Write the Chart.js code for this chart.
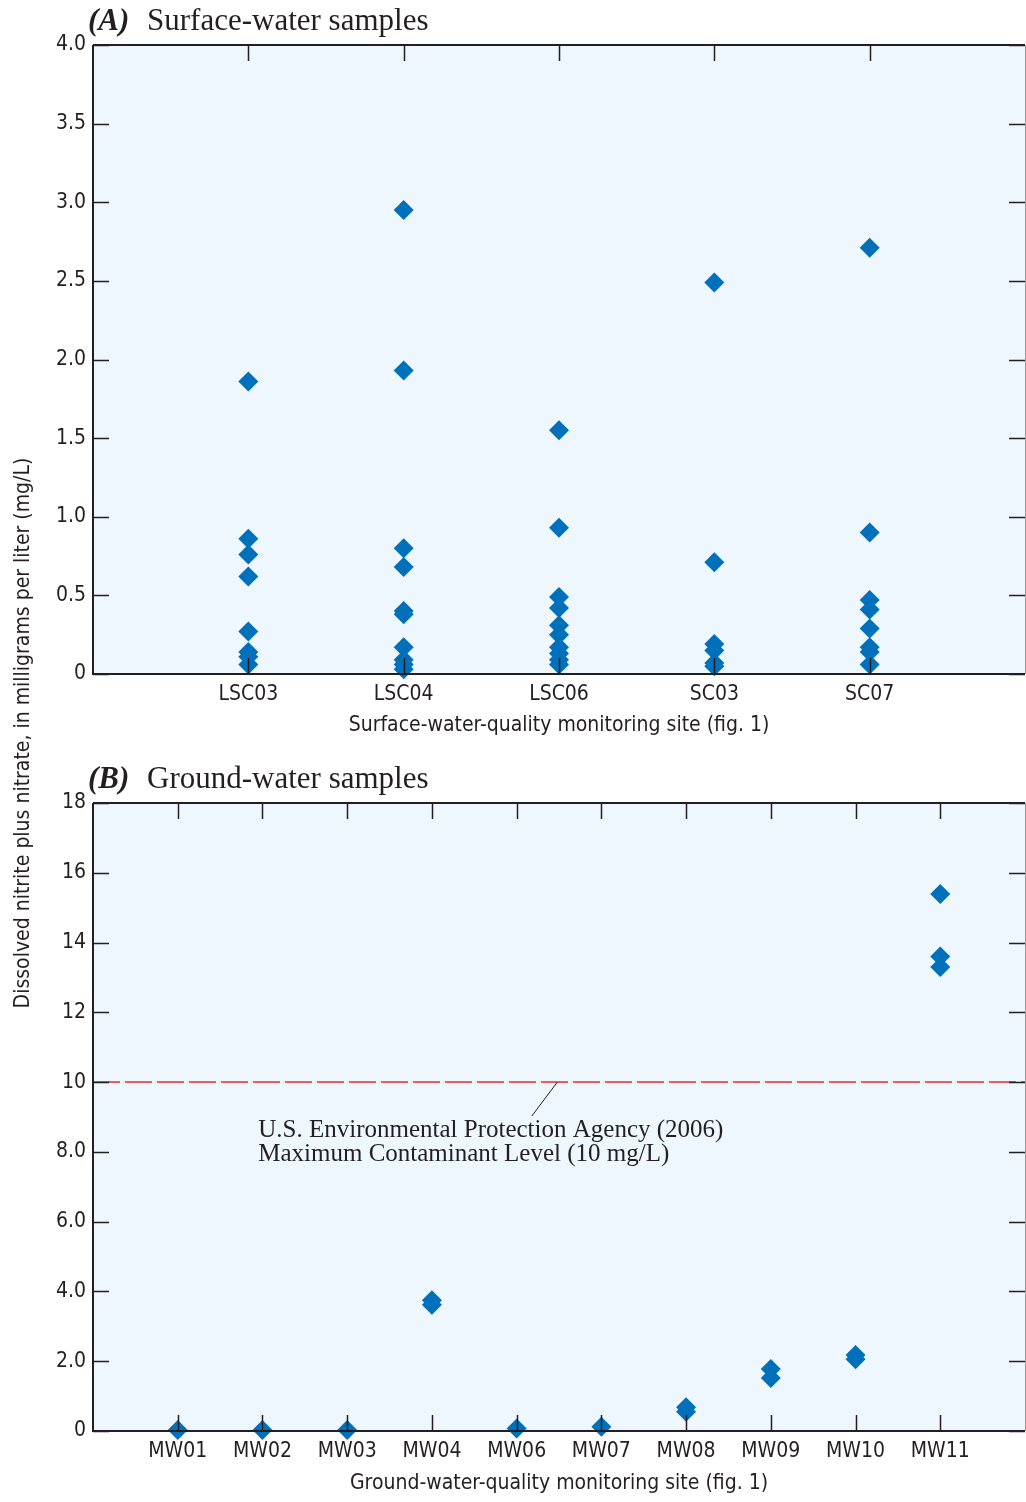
<!DOCTYPE html>
<html>
<head>
<meta charset="utf-8">
<script src="https://cdn.jsdelivr.net/npm/chart.js@4.4.1/dist/chart.umd.min.js"></script>
<style>
  body { margin: 0; background: #fff; width: 1026px; height: 1502px; position: relative; overflow: hidden; }
  .panel { position: absolute; left: 0; }
  #panelA { top: 0; }
  #panelB { top: 760px; }
  #ytitle {
    position: absolute; left: -328px; top: 721px; width: 700px; height: 24px;
    line-height: 24px; text-align: center; transform: rotate(-90deg);
    font: 21px "Liberation Sans Narrow", "DejaVu Sans Condensed", Roboto, sans-serif; color: #231f20;
  }
</style>
</head>
<body>
<canvas id="panelA" class="panel" width="1026" height="760"></canvas>
<canvas id="panelB" class="panel" width="1026" height="742"></canvas>
<div id="ytitle">Dissolved nitrite plus nitrate, in milligrams per liter (mg/L)</div>
<script>
// surface-water sites and their nitrite+nitrate results, mg/L
var surfaceSites = ['LSC03', 'LSC04', 'LSC06', 'SC03', 'SC07'];
var lsc03 = [1.86, 0.86, 0.76, 0.62, 0.27, 0.14, 0.11, 0.06];
var lsc04 = [2.95, 1.93, 0.80, 0.68, 0.40, 0.38, 0.17, 0.09, 0.06, 0.03];
var lsc06 = [1.55, 0.93, 0.49, 0.42, 0.31, 0.25, 0.17, 0.13, 0.09, 0.06];
var sc03 = [2.49, 0.71, 0.19, 0.15, 0.07, 0.05];
var sc07 = [2.71, 0.90, 0.47, 0.41, 0.29, 0.17, 0.14, 0.06];
var surfaceValues = [lsc03, lsc04, lsc06, sc03, sc07];

// ground-water wells
var wellSites = ['MW01', 'MW02', 'MW03', 'MW04', 'MW06', 'MW07', 'MW08', 'MW09', 'MW10', 'MW11'];
var mw01 = [0.03];
var mw02 = [0.03];
var mw03 = [0.03];
var mw04 = [3.75, 3.62];
var mw06 = [0.07];
var mw07 = [0.12];
var mw08 = [0.68, 0.55];
var mw09 = [1.78, 1.52];
var mw10 = [2.18, 2.06];
var mw11 = [15.39, 13.6, 13.3];
var wellValues = [mw01, mw02, mw03, mw04, mw06, mw07, mw08, mw09, mw10, mw11];

// EPA maximum contaminant level
var mcl = 10;

var INK = '#231f20';
var BLUE = '#0070ba';
var NARROW = '"Liberation Sans Narrow", "DejaVu Sans Condensed", Roboto, sans-serif';
var SERIF = '"Liberation Serif", "DejaVu Serif", serif';

function toPoints(values) {
  var pts = [];
  values.forEach(function(list, i) {
    list.forEach(function(v) { pts.push({x: i + 1, y: v}); });
  });
  return pts;
}

function yLabel(v) {
  if (v === 0) return '0';
  return v < 10 ? v.toFixed(1) : String(v);
}

// plot background, frame, inward ticks on every side, panel heading, note
var panelDecor = {
  id: 'panelDecor',
  beforeDatasetsDraw: function(chart) {
    var a = chart.chartArea, ctx = chart.ctx;
    ctx.save();
    ctx.fillStyle = '#eef7fd';
    ctx.fillRect(a.left, a.top, a.right - a.left, a.bottom - a.top);
    ctx.restore();
  },
  afterDatasetsDraw: function(chart, args, opts) {
    var a = chart.chartArea, ctx = chart.ctx;
    var xs = chart.scales.x, ys = chart.scales.y;
    var len = 16;
    ctx.save();
    ctx.strokeStyle = INK;
    ctx.lineWidth = 1.5;
    ctx.beginPath();
    xs.ticks.forEach(function(t) {
      var px = Math.round(xs.getPixelForValue(t.value)) + 0.5;
      ctx.moveTo(px, a.bottom); ctx.lineTo(px, a.bottom - len);
      ctx.moveTo(px, a.top); ctx.lineTo(px, a.top + len);
    });
    ys.ticks.forEach(function(t) {
      var py = Math.round(ys.getPixelForValue(t.value)) + 0.5;
      ctx.moveTo(a.left, py); ctx.lineTo(a.left + len, py);
      ctx.moveTo(a.right, py); ctx.lineTo(a.right - len, py);
    });
    ctx.stroke();

    ctx.lineWidth = 2;
    ctx.beginPath();
    ctx.moveTo(a.left, a.top); ctx.lineTo(a.left, a.bottom); ctx.lineTo(a.right, a.bottom);
    ctx.moveTo(a.left, a.top); ctx.lineTo(a.right, a.top);
    ctx.stroke();
    ctx.strokeStyle = '#9a9a9a';
    ctx.lineWidth = 1;
    ctx.beginPath();
    ctx.moveTo(a.right + 0.5, a.top); ctx.lineTo(a.right + 0.5, a.bottom);
    ctx.stroke();

    // heading
    ctx.fillStyle = INK;
    ctx.textBaseline = 'alphabetic';
    ctx.font = 'italic bold 31px ' + SERIF;
    ctx.fillText(opts.tag, a.left - 5, a.top - 15);
    ctx.font = '31px ' + SERIF;
    ctx.fillText(opts.heading, a.left + 54, a.top - 15);

    if (opts.note) {
      var n = opts.note;
      ctx.strokeStyle = INK;
      ctx.lineWidth = 1;
      ctx.beginPath();
      ctx.moveTo(xs.getPixelForValue(n.from[0]), ys.getPixelForValue(n.from[1]));
      ctx.lineTo(xs.getPixelForValue(n.to[0]), ys.getPixelForValue(n.to[1]));
      ctx.stroke();
      ctx.font = '25px ' + SERIF;
      n.lines.forEach(function(line, i) {
        ctx.fillText(line, xs.getPixelForValue(n.at[0]), ys.getPixelForValue(n.at[1]) + i * 24);
      });
    }
    ctx.restore();
  }
};

function makePanel(id, sites, values, opt) {
  var datasets = [{
    type: 'scatter',
    data: toPoints(values),
    pointStyle: 'rectRot',
    pointRadius: 10,
    pointBackgroundColor: BLUE,
    pointBorderWidth: 0,
    clip: false,
    order: 1
  }];
  if (opt.limit != null) {
    datasets.push({
      type: 'line',
      data: [{x: 0, y: opt.limit}, {x: sites.length + 1, y: opt.limit}],
      borderColor: '#ee2a24',
      borderWidth: 1.5,
      borderDash: [27, 5],
      pointRadius: 0,
      order: 2
    });
  }
  return new Chart(document.getElementById(id), {
    type: 'scatter',
    data: {datasets: datasets},
    options: {
      responsive: false,
      animation: false,
      events: [],
      layout: {autoPadding: false, padding: {top: opt.top, right: 1, left: 0, bottom: 0}},
      plugins: {
        legend: {display: false},
        tooltip: {enabled: false},
        panelDecor: {tag: opt.tag, heading: opt.heading, note: opt.note}
      },
      scales: {
        x: {
          type: 'linear',
          min: 0,
          max: sites.length + 1,
          afterBuildTicks: function(s) {
            s.ticks = sites.map(function(n, i) { return {value: i + 1}; });
          },
          afterFit: function(s) {
            s.height = opt.xHeight;
            s.paddingLeft = 0;
            s.paddingRight = 0;
          },
          grid: {display: false, drawTicks: false},
          border: {display: false},
          ticks: {
            autoSkip: false,
            maxRotation: 0,
            padding: 8,
            color: INK,
            font: {family: NARROW, size: 21},
            callback: function(v) { return sites[v - 1]; }
          },
          title: {
            display: true,
            text: opt.xTitle,
            color: INK,
            font: {family: NARROW, size: 21},
            padding: {top: 0, bottom: opt.titlePad}
          }
        },
        y: {
          min: 0,
          max: opt.yMax,
          afterFit: function(s) {
            s.width = 93;
            s.paddingTop = 0;
            s.paddingBottom = 0;
          },
          grid: {display: false, drawTicks: false},
          border: {display: false},
          ticks: {
            stepSize: opt.yStep,
            padding: 7,
            color: INK,
            font: {family: NARROW, size: 21},
            callback: yLabel
          }
        }
      }
    },
    plugins: [panelDecor]
  });
}

makePanel('panelA', surfaceSites, surfaceValues, {
  tag: '(A)',
  heading: 'Surface-water samples',
  top: 45,
  xHeight: 86,
  titlePad: 22,
  yMax: 4,
  yStep: 0.5,
  xTitle: 'Surface-water-quality monitoring site (fig. 1)'
});

makePanel('panelB', wellSites, wellValues, {
  tag: '(B)',
  heading: 'Ground-water samples',
  top: 43,
  xHeight: 71,
  titlePad: 6,
  yMax: 18,
  yStep: 2,
  limit: mcl,
  xTitle: 'Ground-water-quality monitoring site (fig. 1)',
  note: {
    from: [5.48, 10],
    to: [5.18, 9.03],
    at: [1.95, 8.43],
    lines: ['U.S. Environmental Protection Agency (2006)', 'Maximum Contaminant Level (10 mg/L)']
  }
});
</script>
</body>
</html>
